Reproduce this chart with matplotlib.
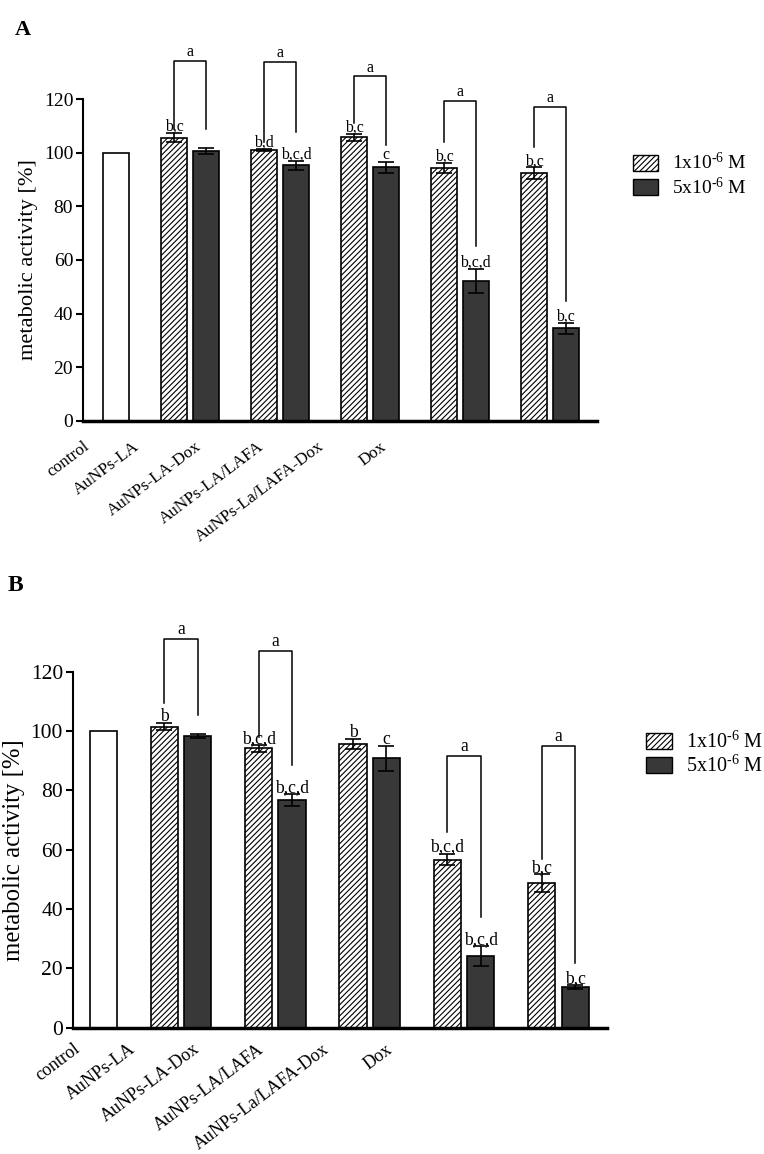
import matplotlib
matplotlib.use("Agg")
import matplotlib.pyplot as plt
from matplotlib.patches import Patch
import numpy as np

plt.rcParams['font.family'] = ['Liberation Serif', 'DejaVu Serif']
plt.rcParams['mathtext.fontset'] = 'custom'
plt.rcParams['mathtext.rm'] = 'Liberation Serif'
plt.rcParams['mathtext.it'] = 'Liberation Serif:italic'
plt.rcParams['mathtext.bf'] = 'Liberation Serif:bold'
plt.rcParams['mathtext.default'] = 'regular'
plt.rcParams['hatch.linewidth'] = 0.8

categories = ["control", "AuNPs-LA", "AuNPs-LA-Dox", "AuNPs-LA/LAFA",
              "AuNPs-La/LAFA-Dox", "Dox"]
legend_labels = [r"1x10$^{\text{-6}}$ M", r"5x10$^{\text{-6}}$ M"]
control_value = 100

# panel A
a_low = [105.6, 101.1, 105.7, 94.2, 92.3]
a_low_err = [1.7, 0.4, 1.4, 1.9, 2.2]
a_high = [100.6, 95.3, 94.5, 52.2, 34.5]
a_high_err = [1.2, 1.6, 2.2, 4.6, 2.1]
a_low_letters = ["b,c", "b,d", "b,c", "b,c", "b,c"]
a_high_letters = ["", "b,c,d", "c", "b,c,d", "b,c"]
# bracket: top, left leg end, right leg end
a_brackets = [(134.3, 109.0, 109.0), (133.9, 104.1, 107.6), (128.5, 111.0, 102.9),
              (119.4, 104.1, 65.3), (117.2, 102.0, 44.7)]

# panel B
b_low = [101.5, 94.2, 95.6, 56.7, 48.7]
b_low_err = [1.2, 1.2, 1.6, 2.0, 3.0]
b_high = [98.4, 76.7, 90.8, 24.2, 13.7]
b_high_err = [0.7, 2.0, 4.3, 3.4, 0.7]
b_low_letters = ["b", "b,c,d", "b", "b,c,d", "b,c"]
b_high_letters = ["", "b,c,d", "c", "b,c,d", "b,c"]
b_brackets = [(131.0, 109.3, 105.4), (127.1, 98.1, 88.5), None,
              (91.7, 66.1, 37.4), (95.0, 56.8, 21.9)]

DARK = "#383838"


def draw_panel(ax, low, low_err, high, high_err, low_let, high_let, brackets,
               fs, cat_fs, label_x, label_dy, xlim):
    pos = np.arange(1, 6)
    w = 0.29
    off = 0.177
    ax.bar(0.18, control_value, w, color="white", edgecolor="black", lw=1.2)
    ax.bar(pos - off, low, w, color="white", edgecolor="black", hatch="//////", lw=1.2)
    ax.bar(pos + off, high, w, color=DARK, edgecolor="black", lw=1.2)
    ax.errorbar(pos - off, low, yerr=low_err, fmt="none", ecolor="black",
                capsize=5.5, elinewidth=1.2, capthick=1.2)
    ax.errorbar(pos + off, high, yerr=high_err, fmt="none", ecolor="black",
                capsize=5.5, elinewidth=1.2, capthick=1.2)

    for i in range(5):
        for x, y, e, t in [(pos[i] - off, low[i], low_err[i], low_let[i]),
                           (pos[i] + off, high[i], high_err[i], high_let[i])]:
            if t:
                ax.annotate(t, (x, y + e), xytext=(0, 1.5), textcoords="offset points",
                            ha="center", va="baseline", fontsize=fs * 0.82)
        if brackets[i] is not None:
            top, lb, rb = brackets[i]
            xl, xr = pos[i] - off, pos[i] + off
            ax.plot([xl, xl, xr, xr], [lb, top, top, rb], color="black", lw=1.1,
                    clip_on=False)
            ax.annotate("a", ((xl + xr) / 2, top), xytext=(0, 0.5), textcoords="offset points",
                        ha="center", va="bottom", fontsize=fs * 0.82,
                        annotation_clip=False)

    ax.set_xlim(*xlim)
    ax.set_ylim(0, 120)
    ax.set_yticks(np.arange(0, 121, 20))
    ax.set_xticks([])
    ax.spines["top"].set_visible(False)
    ax.spines["right"].set_visible(False)
    ax.spines["bottom"].set_linewidth(2.5)
    ax.spines["left"].set_linewidth(1.5)
    ax.tick_params(axis="y", length=5, width=1.5, labelsize=fs, pad=2)
    ax.set_ylabel("metabolic activity [%]", fontsize=fs * 1.15, labelpad=4)
    for lx, name in zip(label_x, categories):
        ax.text(lx, label_dy, name, transform=ax.transAxes, rotation=37,
                rotation_mode="anchor", ha="right", va="top", fontsize=cat_fs)


fig = plt.figure(figsize=(7.64, 11.54), dpi=100)
axA = fig.add_axes([0.1086, 0.6352, 0.6724, 0.279])
axB = fig.add_axes([0.0952, 0.1094, 0.6988, 0.3085])

draw_panel(axA, a_low, a_low_err, a_high, a_high_err, a_low_letters, a_high_letters,
           a_brackets, 14, 12.3, [0.0, 0.097, 0.218, 0.339, 0.457, 0.578], -0.055,
           (-0.19, 5.52))
draw_panel(axB, b_low, b_low_err, b_high, b_high_err, b_low_letters, b_high_letters,
           b_brackets, 15.5, 13.0, [0.0, 0.104, 0.225, 0.345, 0.467, 0.585], -0.036,
           (-0.147, 5.51))

handles = [Patch(facecolor="white", edgecolor="black", hatch="//////"),
           Patch(facecolor=DARK, edgecolor="black")]
for anchor, fs in [((0.8285, 0.868), 14), ((0.845, 0.366), 14.5)]:
    fig.legend(handles, legend_labels, loc="upper left", bbox_to_anchor=anchor,
               frameon=False, fontsize=fs, handlelength=1.3, handleheight=0.9,
               handletextpad=0.7, labelspacing=0.15, borderpad=0, borderaxespad=0)

fig.text(0.02, 0.983, "A", fontsize=16, fontweight="bold", va="top")
fig.text(0.01, 0.502, "B", fontsize=17, fontweight="bold", va="top")

fig.savefig("out.png", dpi=100)
